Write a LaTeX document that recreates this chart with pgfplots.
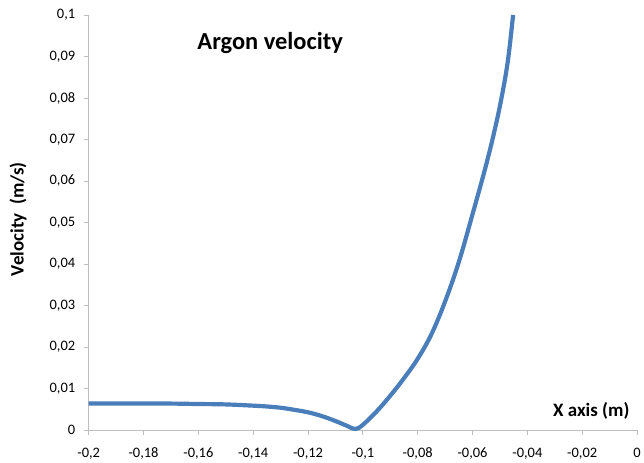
\documentclass[border=0pt]{standalone}
\usepackage{fontspec}
\setmainfont{Carlito}
\usepackage{pgfplots}
\pgfplotsset{compat=1.18}
\definecolor{axgray}{RGB}{190,190,190}
\definecolor{serblue}{RGB}{74,126,187}
\begin{document}
\begin{tikzpicture}
\begin{axis}[
  scale only axis,
  width=550pt, height=416.5pt,
  xmin=-0.2, xmax=0, ymin=0, ymax=0.1,
  axis lines*=left,
  axis line style={axgray, line width=0.8pt},
  tick style={axgray, line width=0.8pt},
  tick align=outside,
  major tick length=5pt,
  xtick={-0.2,-0.18,-0.16,-0.14,-0.12,-0.1,-0.08,-0.06,-0.04,-0.02,0},
  xticklabels={{-0,2},{-0,18},{-0,16},{-0,14},{-0,12},{-0,1},{-0,08},{-0,06},{-0,04},{-0,02},{0}},
  ytick={0,0.01,0.02,0.03,0.04,0.05,0.06,0.07,0.08,0.09,0.1},
  yticklabels={{0},{0,01},{0,02},{0,03},{0,04},{0,05},{0,06},{0,07},{0,08},{0,09},{0,1}},
  ticklabel style={font=\fontsize{14.5}{17}\selectfont, text=black},
  xticklabel style={yshift=-9pt},
  yticklabel style={xshift=-5pt},
  xlabel={X axis (m)},
  ylabel={Velocity\ \ (m/s)},
  every axis x label/.style={at={(axis cs:-0.0027,0.0032)}, anchor=base east, font=\fontsize{19}{23}\selectfont\bfseries, inner sep=0pt},
  every axis y label/.style={at={(axis description cs:-0.129,0.508)}, rotate=90, anchor=center, font=\fontsize{19}{23}\selectfont\bfseries, inner sep=0pt},
  clip=false,
]
\addplot[serblue, line width=4.2pt, smooth, tension=0.6, line cap=butt] coordinates {
(-0.2,0.0064) (-0.19,0.0064) (-0.18,0.0064) (-0.17,0.0064) (-0.16,0.0063) (-0.15,0.0062)
(-0.14,0.0059) (-0.135,0.0057) (-0.13,0.0054) (-0.125,0.0049) (-0.12,0.0043)
(-0.115,0.0034) (-0.11,0.0022) (-0.106,0.0011) (-0.1027,0.0003)
(-0.1,0.0013) (-0.095,0.0045) (-0.09,0.0083) (-0.085,0.0125) (-0.08,0.0172)
(-0.075,0.0231) (-0.07,0.0310) (-0.065,0.0405) (-0.06,0.0520) (-0.055,0.0640)
(-0.0515,0.0735) (-0.049,0.0815) (-0.047,0.0895) (-0.0452,0.1)
};
\node[anchor=base west, font=\fontsize{24.5}{29}\selectfont\bfseries, inner sep=0pt] at (axis cs:-0.1604,0.0916) {Argon velocity};
\end{axis}
\path ([xshift=-89pt,yshift=-31.5pt]current axis.south west) rectangle ([xshift=5pt,yshift=15pt]current axis.north east);
\end{tikzpicture}
\end{document}
